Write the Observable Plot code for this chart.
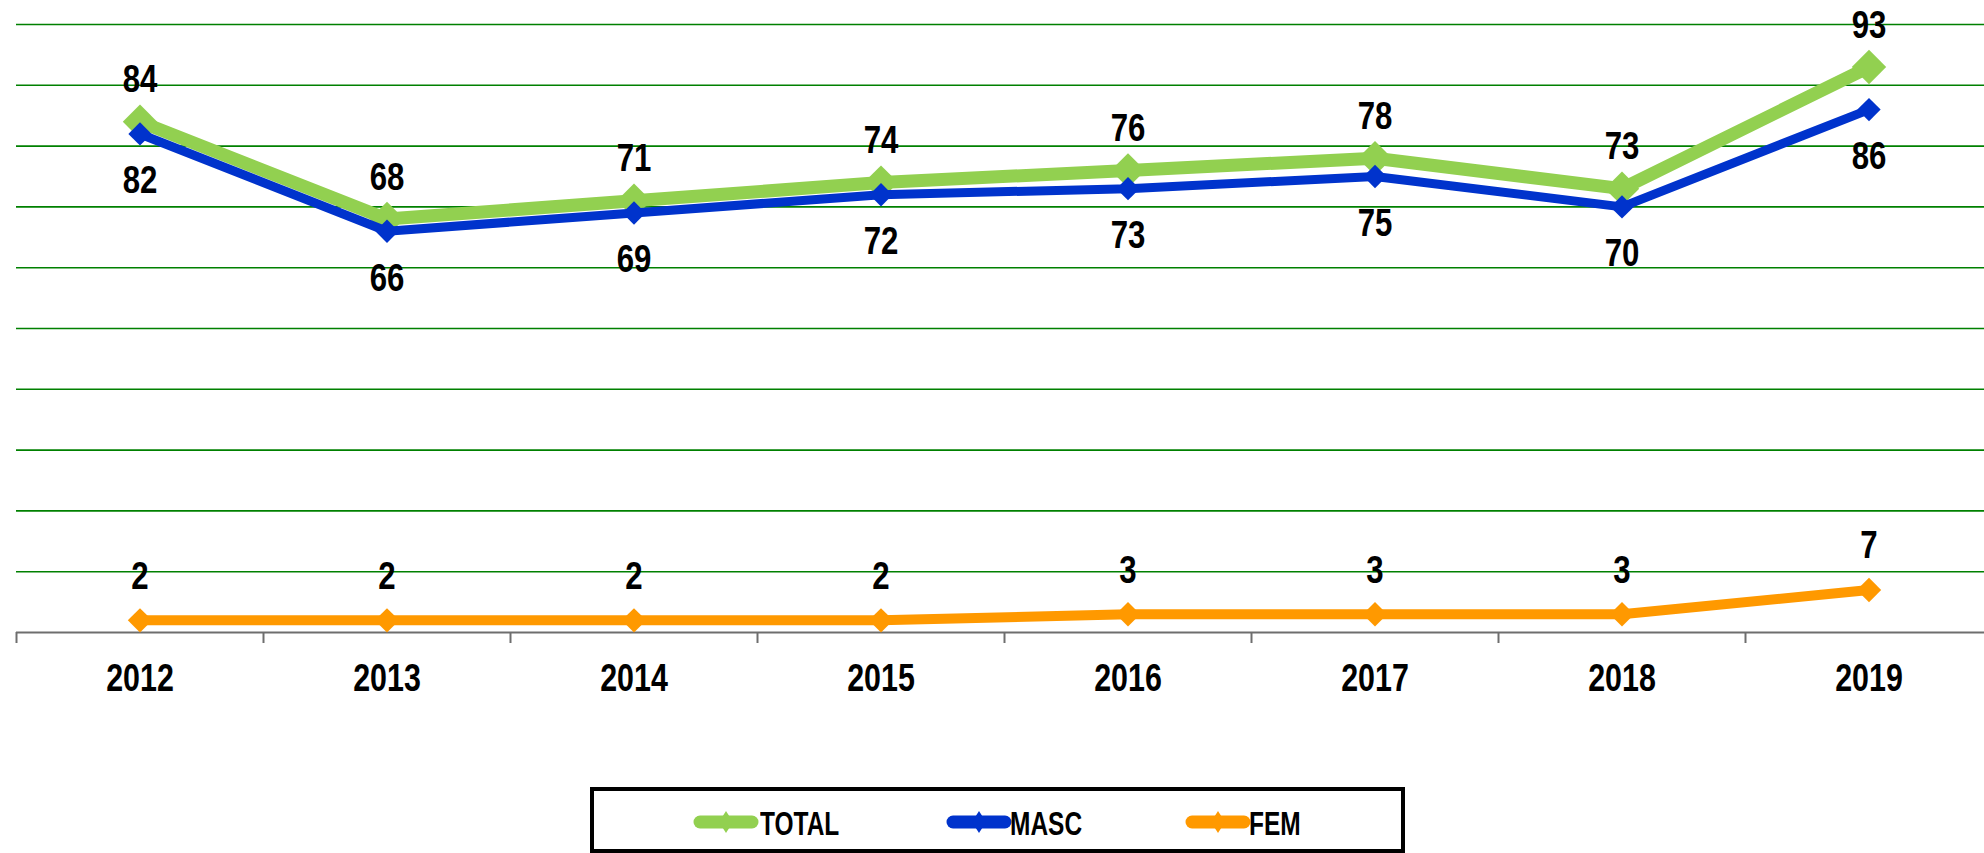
<!DOCTYPE html>
<html>
<head>
<meta charset="utf-8">
<script src="https://cdn.jsdelivr.net/npm/d3@7"></script>
<script src="https://cdn.jsdelivr.net/npm/@observablehq/plot@0.6"></script>
<style>
  html, body { margin: 0; padding: 0; background: #fff; }
  body { width: 1984px; height: 853px; overflow: hidden; position: relative;
         font-family: "Liberation Sans", Arial, sans-serif; font-weight: bold; }
  #chart { position: absolute; left: 0; top: 0; }
  #legend { position: absolute; left: 590px; top: 787px; width: 807px; height: 58px;
            border: 4px solid #000; background: #fff; box-sizing: content-box; }
  .sw { position: absolute; top: 14px; }
  .lt { position: absolute; top: 0; height: 58px; line-height: 58px; font-size: 34px; color: #000;
        transform: scaleX(0.72); transform-origin: 0 50%; white-space: nowrap; margin-top: 3px; }
</style>
</head>
<body>
<div id="chart"></div>
<div id="legend"></div>
<script>
const years = [2012, 2013, 2014, 2015, 2016, 2017, 2018, 2019];
const total = [84, 68, 71, 74, 76, 78, 73, 93];
const masc  = [82, 66, 69, 72, 73, 75, 70, 86];
const fem   = [2, 2, 2, 2, 3, 3, 3, 7];
const seriesNames = ["TOTAL", "MASC", "FEM"];
const seriesColors = ["#92D050", "#0033CC", "#FF9900"];
const gridValues = [10, 20, 30, 40, 50, 60, 70, 80, 90, 100];

const rows = (vals, name) => years.map((y, i) => ({year: y, value: vals[i], series: name}));
const totalRows = rows(total, "TOTAL");
const mascRows = rows(masc, "MASC");
const femRows = rows(fem, "FEM");
const boundaries = years.map(y => y - 0.5).concat([years[years.length - 1] + 0.5]);

const font = '"Liberation Sans", Arial, sans-serif';
const labelStyle = {fontSize: 39, fontWeight: "bold", fill: "#000", fontFamily: font};

const chart = Plot.plot({
  width: 1984,
  height: 760,
  marginLeft: 16,
  marginRight: 0,
  marginTop: 24,
  marginBottom: 128,
  style: {fontFamily: font, background: "transparent", overflow: "hidden"},
  x: {type: "linear", domain: [2011.5, 2019.5], range: [16, 1992], axis: null},
  y: {domain: [0, 100], axis: null},
  marks: [
    Plot.ruleY(gridValues, {stroke: "#008000", strokeWidth: 1.6}),
    Plot.axisX({ticks: boundaries, tickFormat: () => "", label: null, tickSize: 11, stroke: "#6e6e6e", strokeWidth: 2, strokeOpacity: 1}),
    Plot.ruleY([0], {stroke: "#6e6e6e", strokeWidth: 2}),
    Plot.text(years, {x: d => d, frameAnchor: "bottom", dy: 46, text: d => String(d), ...labelStyle, fontSize: 38, lineAnchor: "middle"}),
    // FEM
    Plot.line(femRows, {x: "year", y: "value", stroke: seriesColors[2], strokeWidth: 10, strokeLinejoin: "miter"}),
    Plot.dot(femRows, {x: "year", y: "value", symbol: "diamond2", r: 11, fill: seriesColors[2], stroke: "none"}),
    // TOTAL
    Plot.line(totalRows, {x: "year", y: "value", stroke: seriesColors[0], strokeWidth: 13, strokeLinejoin: "miter"}),
    Plot.dot(totalRows, {x: "year", y: "value", symbol: "diamond2", r: 15.5, fill: seriesColors[0], stroke: "none"}),
    // MASC
    Plot.line(mascRows, {x: "year", y: "value", stroke: seriesColors[1], strokeWidth: 9, strokeLinejoin: "miter"}),
    Plot.dot(mascRows, {x: "year", y: "value", symbol: "diamond2", r: 10.5, fill: seriesColors[1], stroke: "none"}),
    // labels
    Plot.text(totalRows, {x: "year", y: "value", text: d => String(d.value), dy: -42, lineAnchor: "middle", ...labelStyle}),
    Plot.text(mascRows, {x: "year", y: "value", text: d => String(d.value), dy: 47, lineAnchor: "middle", ...labelStyle}),
    Plot.text(femRows, {x: "year", y: "value", text: d => String(d.value), dy: -44, lineAnchor: "middle", ...labelStyle})
  ]
});
// narrow the bold face horizontally to resemble the condensed original font
chart.querySelectorAll("text").forEach(t => {
  const tr = t.getAttribute("transform");
  if (tr && tr.includes("translate")) t.setAttribute("transform", tr + " scale(0.8,1)");
});
document.getElementById("chart").appendChild(chart);

// Legend
const legend = document.getElementById("legend");
const swatchLefts = [99, 352, 591];
const textLefts = [166, 416, 655];
seriesNames.forEach((name, i) => {
  const c = seriesColors[i];
  const sw = document.createElement("div");
  sw.className = "sw";
  sw.style.left = swatchLefts[i] + "px";
  sw.innerHTML =
    `<svg width="66" height="34" viewBox="0 0 66 34">` +
    `<line x1="7" y1="17" x2="59" y2="17" stroke="${c}" stroke-width="13" stroke-linecap="round"/>` +
    `<path d="M33 6 L40 17 L33 28 L26 17 Z" fill="${c}"/>` +
    `</svg>`;
  legend.appendChild(sw);
  const lt = document.createElement("div");
  lt.className = "lt";
  lt.style.left = textLefts[i] + "px";
  lt.textContent = name;
  legend.appendChild(lt);
});
</script>
</body>
</html>
